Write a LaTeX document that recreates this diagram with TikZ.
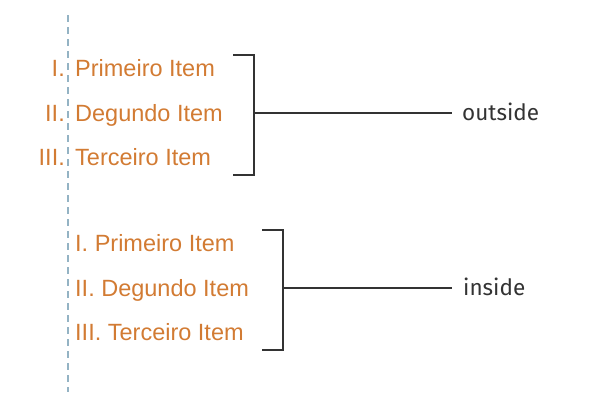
\documentclass[tikz,border=0pt]{standalone}
\usepackage{fontspec}
\setmainfont{Liberation Sans}
\newfontfamily\labelfont{Fira Sans}
\usetikzlibrary{positioning}
\definecolor{itemorange}{HTML}{D27B33}
\definecolor{guideblue}{HTML}{94B3C4}
\definecolor{bracketgray}{HTML}{333333}
\tikzstyle{itemstyle}=[inner sep=0pt, text=itemorange, font=\fontsize{23.5}{28}\selectfont]
\tikzstyle{numeral} = [itemstyle, anchor=base east]
\tikzstyle{itemtext} = [itemstyle, anchor=base west]
\tikzstyle{tag} = [inner sep=0pt, anchor=base west, text=bracketgray,
  font=\labelfont\fontsize{22.5}{27}\selectfont]
\tikzstyle{bracket} = [draw=bracketgray, line width=2pt]
\tikzstyle{line} = [draw=bracketgray, line width=1.5pt]
\newcommand{\outitem}[4]{%
  \node (n#1) [numeral] at (65,#2) {#3};
  \node (t#1) [itemtext] at (75,#2) {#4};}
\newcommand{\initem}[3]{\node (i#1) [itemtext] at (75,#2) {#3};}

\begin{document}
\begin{tikzpicture}[x=1pt, y=-1pt]
\useasboundingbox (0,0) rectangle (600,400);
% Guide line
\coordinate (gtop) at (68,15);
\coordinate (gbot) at (68,392);
\draw [guideblue, line width=1.5pt, dash pattern=on 7pt off 5pt] (gtop) -- (gbot);

% Outside list
\outitem{1}{76}{I.}{Primeiro Item}
\outitem{2}{121}{II.}{Degundo Item}
\outitem{3}{165}{III.}{Terceiro Item}

% Inside list
\initem{1}{251}{I. Primeiro Item}
\initem{2}{296}{II. Degundo Item}
\initem{3}{340}{III. Terceiro Item}

% Brackets
\coordinate (ob1) at (233,55);
\coordinate (ob2) at (254,55);
\coordinate (ob3) at (254,175);
\coordinate (ob4) at (233,175);
\coordinate (om) at (254,113);
\path [bracket] (ob1) -- (ob2) -- (ob3) -- (ob4);
\coordinate (ib1) at (262,230);
\coordinate (ib2) at (283,230);
\coordinate (ib3) at (283,350);
\coordinate (ib4) at (262,350);
\coordinate (im) at (283,288);
\path [bracket] (ib1) -- (ib2) -- (ib3) -- (ib4);

% Labels
\node (outlbl) [tag] at (462,120) {outside};
\node (inlbl) [tag] at (463,295) {inside};
\coordinate (oe) at (452,113);
\coordinate (ie) at (452,288);
\path [line] (om) -- (oe);
\path [line] (im) -- (ie);
\end{tikzpicture}
\end{document}
